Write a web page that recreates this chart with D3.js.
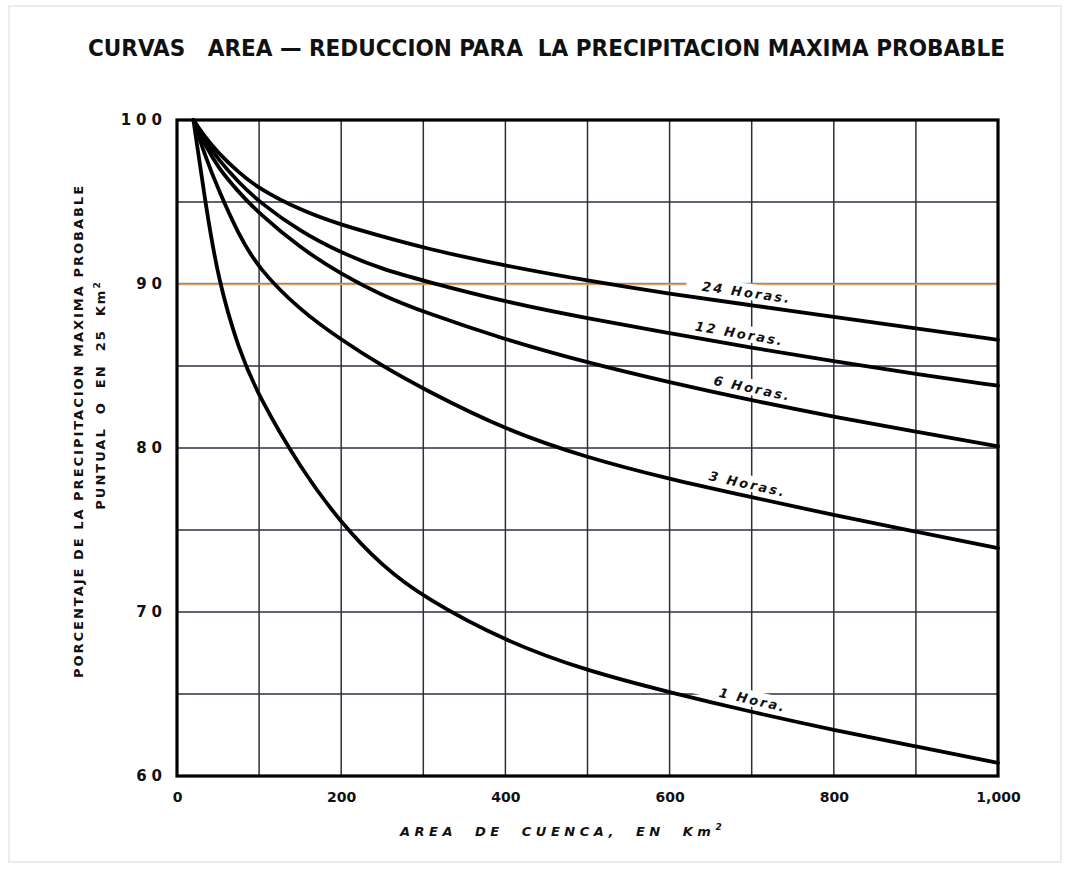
<!DOCTYPE html>
<html>
<head>
<meta charset="utf-8">
<script src="https://cdn.jsdelivr.net/npm/d3@7"></script>
<style>
body { margin: 0; background: #fff; }
svg { display: block; }
</style>
</head>
<body>
<svg id="chart" width="1070" height="874"></svg>
<script>
// areas (km2) at which the curves were read
var areas = [20, 35, 50, 75, 100, 150, 200, 250, 300, 400, 500, 600, 700, 800, 900, 1000];

// percentage of the point PMP, one list per duration
var h1  = [100, 94.8, 90.3, 86.0, 83.1, 78.8, 75.4, 72.8, 70.9, 68.2, 66.4, 65.1, 63.9, 62.8, 61.8, 60.8];
var h3  = [100, 97.7, 95.8, 93.0, 90.9, 88.4, 86.6, 85.0, 83.6, 81.1, 79.4, 78.1, 77.0, 75.9, 74.9, 73.9];
var h6  = [100, 98.4, 97.1, 95.6, 94.3, 92.2, 90.6, 89.3, 88.3, 86.6, 85.2, 84.0, 82.9, 81.9, 81.0, 80.1];
var h12 = [100, 98.7, 97.6, 96.2, 95.0, 93.2, 91.9, 90.9, 90.2, 88.9, 87.9, 87.0, 86.1, 85.3, 84.5, 83.8];
var h24 = [100, 98.9, 98.0, 96.8, 95.8, 94.5, 93.6, 92.9, 92.2, 91.1, 90.2, 89.4, 88.7, 88.0, 87.3, 86.6];

var curveNames = ["24 Horas.", "12 Horas.", "6 Horas.", "3 Horas.", "1 Hora."];
var curveValues = [h24, h12, h6, h3, h1];
var labelArea = [692, 683, 698, 692, 698];

var xTicks = [0, 200, 400, 600, 800, 1000];
var yTicks = [60, 70, 80, 90, 100];

var svg = d3.select("#chart");

// faint picture border
svg.append("rect")
	.attr("x", 9).attr("y", 6).attr("width", 1052).attr("height", 856)
	.attr("fill", "none").attr("stroke", "#ececec").attr("stroke-width", 2);

var x = d3.scaleLinear().domain([0, 1000]).range([177, 998]);
var y = d3.scaleLinear().domain([60, 100]).range([776, 120]);

// grid
var g = svg.append("g");
g.selectAll(".vg").data(d3.range(100, 1000, 100)).enter()
	.append("line")
	.attr("x1", function (d) { return x(d); }).attr("x2", function (d) { return x(d); })
	.attr("y1", y(100)).attr("y2", y(60))
	.attr("stroke", "#2e2e40").attr("stroke-width", 1.5);

g.selectAll(".hg").data(d3.range(65, 100, 5).filter(function (d) { return d != 90; })).enter()
	.append("line")
	.attr("x1", x(0)).attr("x2", x(1000))
	.attr("y1", function (d) { return y(d); }).attr("y2", function (d) { return y(d); })
	.attr("stroke", "#2e2e40").attr("stroke-width", 1.5);

// the 90 line shows colour fringes in the scan
g.append("line")
	.attr("x1", x(0)).attr("x2", x(1000)).attr("y1", y(90) - 0.6).attr("y2", y(90) - 0.6)
	.attr("stroke", "#6f8fd0").attr("stroke-width", 1.2);
g.append("line")
	.attr("x1", x(0)).attr("x2", x(1000)).attr("y1", y(90) + 0.7).attr("y2", y(90) + 0.7)
	.attr("stroke", "#e2a25a").attr("stroke-width", 1.2);

// curves
var line = d3.line()
	.x(function (d) { return x(d[0]); })
	.y(function (d) { return y(d[1]); })
	.curve(d3.curveBasis);

function valueAt (vals, a) {
	for (var i = 1; i < areas.length; ++i) {
		if (a <= areas[i]) {
			var t = (a - areas[i - 1]) / (areas[i] - areas[i - 1]);
			return vals[i - 1] + t * (vals[i] - vals[i - 1]);
		}
	}
	return vals[vals.length - 1];
}

// labels (white patch behind them, like the drawing)
for (var k = 0; k < curveNames.length; ++k) {
	var a = labelArea[k];
	var v = curveValues[k];
	var px = x(a), py = y(valueAt(v, a));
	var ang = Math.atan2(y(valueAt(v, a + 60)) - y(valueAt(v, a - 60)), x(a + 60) - x(a - 60)) * 180 / Math.PI;
	var lg = svg.append("g")
		.attr("transform", "translate(" + px + "," + py + ") rotate(" + ang + ") translate(0,-12)");
	var wide = k == 0 ? 122 : (k == 4 ? 120 : 92);
	lg.append("rect")
		.attr("x", -wide / 2).attr("y", -9).attr("width", wide).attr("height", 16)
		.attr("fill", "#fff");
	lg.append("text")
		.attr("text-anchor", "middle").attr("dy", "0.35em")
		.attr("font-family", "DejaVu Sans, sans-serif")
		.attr("font-size", 13).attr("font-weight", "bold").attr("font-style", "italic")
		.attr("letter-spacing", 2.2)
		.attr("fill", "#111")
		.text(curveNames[k]);
}

curveValues.forEach(function (vals) {
	svg.append("path")
		.datum(areas.map(function (a, i) { return [a, vals[i]]; }))
		.attr("d", line)
		.attr("fill", "none")
		.attr("stroke", "#000")
		.attr("stroke-width", 3.8)
		.attr("stroke-linecap", "round");
});

// frame
svg.append("rect")
	.attr("x", x(0)).attr("y", y(100))
	.attr("width", x(1000) - x(0)).attr("height", y(60) - y(100))
	.attr("fill", "none").attr("stroke", "#000").attr("stroke-width", 3.2);

// axes as text
var xAxis = d3.axisBottom(x).tickValues(xTicks).tickSize(0).tickPadding(16)
	.tickFormat(d3.format(","));
svg.append("g").attr("transform", "translate(0," + y(60) + ")").call(xAxis)
	.call(function (s) { s.select(".domain").remove(); })
	.selectAll("text")
	.attr("font-family", "DejaVu Sans, sans-serif").attr("font-size", 14)
	.attr("font-weight", "bold").attr("fill", "#111");

var yAxis = d3.axisLeft(y).tickValues(yTicks).tickSize(0).tickPadding(10);
svg.append("g").attr("transform", "translate(" + x(0) + ",0)").call(yAxis)
	.call(function (s) { s.select(".domain").remove(); })
	.selectAll("text")
	.attr("font-family", "DejaVu Sans, sans-serif").attr("font-size", 15)
	.attr("font-weight", "bold").attr("letter-spacing", 5).attr("fill", "#111");

// title
svg.append("text")
	.attr("x", 88).attr("y", 56)
	.attr("textLength", 917).attr("lengthAdjust", "spacingAndGlyphs")
	.attr("font-family", "DejaVu Sans Condensed, DejaVu Sans, sans-serif")
	.attr("font-size", 23).attr("font-weight", "bold")
	.attr("fill", "#111")
	.attr("xml:space", "preserve")
	.text("CURVAS   AREA \u2014 REDUCCION PARA  LA PRECIPITACION MAXIMA PROBABLE");

// x axis title
var xt = svg.append("text")
	.attr("x", 400).attr("y", 836)
	.attr("font-family", "DejaVu Sans, sans-serif").attr("font-size", 13)
	.attr("font-weight", "bold").attr("font-style", "italic")
	.attr("letter-spacing", 4.5).attr("fill", "#111")
	.attr("xml:space", "preserve");
xt.append("tspan").text("AREA  DE  CUENCA,  EN  Km");
xt.append("tspan").attr("dy", -6).attr("font-size", 9).text("2");

// y axis title, two lines
svg.append("text")
	.attr("transform", "translate(83,431) rotate(-90)")
	.attr("text-anchor", "middle")
	.attr("font-family", "DejaVu Sans, sans-serif").attr("font-size", 13)
	.attr("font-weight", "bold").attr("letter-spacing", 2).attr("fill", "#111")
	.text("PORCENTAJE DE LA PRECIPITACION MAXIMA PROBABLE");

var yt = svg.append("text")
	.attr("transform", "translate(105,395) rotate(-90)")
	.attr("text-anchor", "middle")
	.attr("font-family", "DejaVu Sans, sans-serif").attr("font-size", 13)
	.attr("font-weight", "bold").attr("letter-spacing", 2).attr("fill", "#111")
	.attr("xml:space", "preserve");
yt.append("tspan").text("PUNTUAL  O  EN  25  Km");
yt.append("tspan").attr("dy", -5).attr("font-size", 9).text("2");
</script>
</body>
</html>
